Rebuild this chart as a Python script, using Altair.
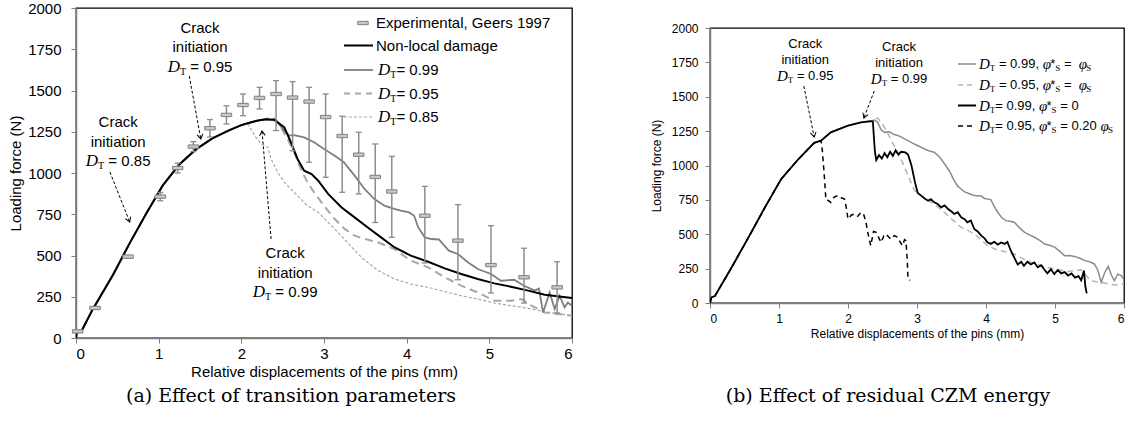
import math
import altair as alt
import pandas as pd

# ---------------- panel (a): effect of transition parameters ----------------
rise_a_x = [0.0, 0.01, 0.07, 0.2, 0.45, 0.65, 0.85, 1.05, 1.25, 1.45, 1.65, 1.85, 2.0]
rise_a_y = [0, 40, 45, 172, 385, 575, 755, 925, 1052, 1143, 1210, 1258, 1290]

nl_x = [2.1, 2.2, 2.3, 2.4, 2.44, 2.52, 2.6, 2.68, 2.76, 2.85, 2.93, 3.05, 3.21, 3.37, 3.53,
        3.69, 3.85, 4.05, 4.26, 4.46, 4.66, 4.86, 5.06, 5.26, 5.47, 5.67, 6.0]
nl_y = [1305, 1318, 1325, 1323, 1307, 1277, 1186, 1085, 1014, 994, 953, 873, 792, 731, 670,
        610, 550, 499, 462, 422, 388, 358, 331, 311, 287, 262, 242]

d99_x = [2.1, 2.2, 2.3, 2.42, 2.52, 2.58, 2.64, 2.76, 2.88, 3.0, 3.13, 3.24, 3.37, 3.49, 3.61,
         3.73, 3.85, 3.93, 4.03, 4.09, 4.14, 4.22, 4.3, 4.39, 4.51, 4.62, 4.74, 4.86, 5.02, 5.14,
         5.3, 5.42, 5.55, 5.6, 5.65, 5.73, 5.79, 5.85, 5.91, 5.95, 6.0]
d99_y = [1305, 1318, 1325, 1318, 1257, 1227, 1230, 1216, 1186, 1145, 1105, 1065, 984, 903, 842,
         802, 782, 772, 761, 741, 670, 610, 600, 597, 529, 509, 459, 418, 388, 347,
         353, 317, 287, 300, 155, 276, 176, 256, 186, 215, 196]

d95_x = [2.1, 2.2, 2.3, 2.38, 2.45, 2.56, 2.64, 2.72, 2.8, 2.88, 3.0, 3.13, 3.25, 3.37, 3.5,
         3.65, 3.85, 4.05, 4.26, 4.46, 4.66, 4.86, 5.06, 5.26, 5.39, 5.51, 5.67, 5.83, 6.0]
d95_y = [1305, 1318, 1328, 1338, 1300, 1206, 1125, 1024, 944, 883, 802, 721, 661, 620, 600,
         580, 539, 469, 428, 368, 317, 276, 226, 226, 236, 196, 155, 145, 135]

d85_x = [2.08, 2.16, 2.24, 2.32, 2.36, 2.44, 2.52, 2.6, 2.68, 2.8, 2.93, 3.05, 3.17, 3.3, 3.45,
         3.65, 3.85, 4.05, 4.26, 4.46, 4.66, 4.86, 5.06, 5.26, 5.47, 5.67, 6.0]
d85_y = [1297, 1227, 1176, 1156, 1085, 1004, 944, 903, 862, 802, 762, 701, 640, 570, 490,
         410, 358, 327, 307, 281, 256, 236, 212, 196, 180, 159, 135]

exp_x = [0.02, 0.23, 0.63, 1.02, 1.23, 1.42, 1.62, 1.82, 2.02, 2.22, 2.42, 2.62, 2.82, 3.02,
         3.22, 3.42, 3.62, 3.82, 4.22, 4.62, 5.02, 5.42, 5.82]
exp_y = [40, 182, 493, 857, 1030, 1160, 1271, 1352, 1412, 1455, 1479, 1457, 1433, 1339,
         1224, 1111, 976, 888, 741, 590, 442, 368, 307]
exp_lo = [40, 175, 485, 832, 1000, 1130, 1218, 1297, 1347, 1388, 1257, 1135, 1065, 974,
          883, 873, 700, 610, 455, 353, 273, 212, 152]
exp_hi = [40, 190, 500, 882, 1060, 1190, 1324, 1407, 1479, 1519, 1560, 1554, 1519, 1479,
          1344, 1247, 1176, 1101, 919, 808, 681, 544, 462]

ann_a_val = ["0.95", "0.85", "0.99"]
ann_a_tx = [1.50, 0.51, 2.53]
ann_a_ty = [1879, 1309, 515]
ann_a_x0 = [1.37, 0.41, 2.36]
ann_a_y0 = [1588, 1006, 600]
ann_a_x1 = [1.51, 0.65, 2.25]
ann_a_y1 = [1206, 703, 1255]

leg_a_text = ["Experimental, Geers 1997", "Non-local damage"]
leg_a_dt = ["0.99", "0.95", "0.85"]

caption_a = "(a) Effect of transition parameters"

# ---------------- panel (b): effect of residual CZM energy ----------------
rise_b_x = [0.0, 0.02, 0.07, 0.3, 0.55, 0.79, 1.03, 1.27, 1.51, 1.61, 1.75, 2.0, 2.19, 2.33]
rise_b_y = [0, 40, 50, 247, 470, 690, 900, 1040, 1165, 1181, 1241, 1290, 1314, 1322]

bs_x = [2.36, 2.39, 2.41, 2.45, 2.49, 2.53, 2.57, 2.61, 2.65, 2.69, 2.73, 2.77, 2.83, 2.87, 2.92,
        2.97, 3.01, 3.06, 3.11, 3.16, 3.2, 3.25, 3.3, 3.35, 3.4, 3.45, 3.5, 3.54, 3.59, 3.64,
        3.69, 3.73, 3.78, 3.83, 3.88, 3.93, 3.98, 4.02, 4.07, 4.12, 4.17, 4.22, 4.27, 4.31, 4.36,
        4.41, 4.46, 4.51, 4.55, 4.6, 4.65, 4.7, 4.75, 4.8, 4.85, 4.89, 4.94, 4.99, 5.04, 5.09,
        5.14, 5.19, 5.24, 5.29, 5.34, 5.38, 5.42, 5.44, 5.46]
bs_y = [1320, 1100, 1040, 1075, 1050, 1090, 1060, 1100, 1070, 1110, 1080, 1100, 1095, 1080, 1000,
        880, 800, 781, 760, 744, 755, 732, 720, 696, 710, 684, 665, 647, 660, 623,
        610, 587, 600, 538, 520, 490, 470, 441, 430, 445, 425, 440, 430, 445, 380,
        330, 280, 300, 270, 300, 280, 295, 260, 275, 240, 215, 245, 210, 240, 215,
        225, 200, 215, 185, 195, 165, 235, 120, 70]

gs_x = [2.38, 2.43, 2.48, 2.53, 2.6, 2.67, 2.74, 2.82, 2.89, 2.96, 3.03, 3.11, 3.18, 3.25, 3.33,
        3.4, 3.47, 3.54, 3.59, 3.64, 3.69, 3.76, 3.83, 3.93, 3.98, 4.07, 4.12, 4.17, 4.23, 4.29,
        4.35, 4.41, 4.48, 4.56, 4.63, 4.7, 4.78, 4.85, 4.92, 5.0, 5.07, 5.14, 5.21, 5.28, 5.36,
        5.43, 5.5, 5.57, 5.62, 5.67, 5.72, 5.77, 5.82, 5.86, 5.91, 5.96, 6.0]
gs_y = [1330, 1314, 1260, 1241, 1245, 1225, 1215, 1193, 1175, 1156, 1140, 1120, 1105, 1096, 1060,
        1011, 960, 889, 850, 829, 808, 795, 781, 778, 760, 752, 700, 660, 620, 599,
        595, 587, 550, 514, 495, 478, 455, 429, 420, 405, 375, 344, 345, 339, 325,
        308, 300, 284, 240, 150, 220, 267, 200, 162, 210, 199, 170]

gd_x = [2.38, 2.43, 2.5, 2.57, 2.64, 2.72, 2.8, 2.87, 2.96, 3.06, 3.15, 3.25, 3.35, 3.45, 3.55,
        3.64, 3.73, 3.83, 3.93, 4.02, 4.12, 4.22, 4.31, 4.41, 4.5, 4.6, 4.7, 4.8, 4.9, 4.99,
        5.09, 5.18, 5.28, 5.38, 5.45, 5.52, 5.6, 5.67, 5.77, 5.86, 6.0]
gd_y = [1335, 1345, 1300, 1241, 1170, 1096, 1010, 926, 820, 781, 750, 720, 680, 635, 590,
        550, 530, 502, 460, 417, 395, 380, 370, 356, 330, 308, 290, 271, 258, 247,
        238, 228, 235, 242, 200, 162, 155, 150, 140, 131, 138]

bd_x = [1.63, 1.66, 1.68, 1.72, 1.75, 1.8, 1.85, 1.9, 1.95, 1.98, 2.0, 2.05, 2.09, 2.14, 2.19,
        2.23, 2.26, 2.3, 2.33, 2.37, 2.41, 2.45, 2.48, 2.52, 2.55, 2.59, 2.62, 2.67, 2.72, 2.76,
        2.79, 2.82, 2.84, 2.86, 2.87, 2.9]
bd_y = [1100, 900, 750, 745, 732, 770, 781, 765, 756, 680, 611, 640, 647, 630, 659,
        640, 587, 480, 417, 520, 514, 470, 441, 490, 502, 480, 465, 490, 478, 440,
        417, 460, 453, 300, 175, 165]

ann_b_val = ["0.95", "0.99"]
ann_b_tx = [1.38, 2.74]
ann_b_ty = [1884, 1862]
ann_b_x0 = [1.36, 2.38]
ann_b_y0 = [1578, 1542]
ann_b_x1 = [1.51, 2.23]
ann_b_y1 = [1207, 1345]

leg_b_dt = ["0.99", "0.95", "0.99", "0.95"]
leg_b_rhs = ["phiS", "phiS", "0", "0.20phiS"]

caption_b = "(b) Effect of residual CZM energy"

# ---------------- styling helpers ----------------
SANS = "Liberation Sans"
SERIF = "Liberation Serif"
CAPF = "DejaVu Serif"
AXGREY = "#7f7f7f"

AR = dict.fromkeys("0123456789", 0.556)
AR.update({".": 0.278, ",": 0.278, " ": 0.278, "=": 0.584, "*": 0.389})
WT = {"s": AR, "si": {"D": 0.722, "φ": 0.5}, "sr": {"T": 0.611, "S": 0.556}}
FONTS = {"s": (SANS, "normal"), "si": (SERIF, "italic"), "sr": (SERIF, "normal")}


def twidth(t, kind, size):
    return sum(WT[kind].get(c, 0.55) for c in t) * size


def make_xy(fs, lpx, tpx, lpy, tpy):
    xs = alt.Scale(domain=[0, 6], nice=False, zero=False)
    ys = alt.Scale(domain=[0, 2000], nice=False, zero=True)
    common = dict(labelFont=SANS, labelFontSize=fs, titleFont=SANS, titleFontSize=fs,
                  titleFontWeight="normal", labelColor="black", titleColor="black",
                  domainColor=AXGREY, domainWidth=1.5, tickColor=AXGREY, tickSize=5,
                  grid=False)
    axx = alt.Axis(values=[0, 1, 2, 3, 4, 5, 6], format="d",
                   title="Relative displacements of the pins (mm)",
                   labelPadding=lpx, titlePadding=tpx, **common)
    axy = alt.Axis(values=list(range(0, 2001, 250)), format="d", title="Loading force (N)",
                   labelPadding=lpy, titlePadding=tpy, **common)

    def XE(f):
        return alt.X(f"{f}:Q", scale=xs, axis=axx)

    def YE(f):
        return alt.Y(f"{f}:Q", scale=ys, axis=axy)
    return XE, YE


def line_layer(xs, ys, XE, YE, color, width, dash=None):
    df = pd.DataFrame({"x": xs, "y": ys, "i": list(range(len(xs)))})
    kw = dict(color=color, strokeWidth=width, clip=True)
    if dash:
        kw["strokeDash"] = dash
    return alt.Chart(df).mark_line(**kw).encode(x=XE("x"), y=YE("y"), order="i:Q")


def text_layer(t, anchor, font, size, style="normal", align="center", dx=0.0, dy=0.0):
    if anchor[0] == "d":
        _, xv, yv, XE, YE = anchor
        df = pd.DataFrame({"x": [xv], "y": [yv], "t": [t]})
        enc = dict(x=XE("x"), y=YE("y"))
    else:
        _, px, py = anchor
        df = pd.DataFrame({"t": [t]})
        enc = dict(x=alt.value(px), y=alt.value(py))
    return alt.Chart(df).mark_text(align=align, baseline="middle", font=font, fontSize=size,
                                   fontStyle=style, dx=round(dx, 1), dy=round(dy, 1),
                                   color="black").encode(text="t:N", **enc)


def rich(segs, anchor, align="center", dy0=0.0):
    W = sum(twidth(t, k, s) for t, k, s, _ in segs)
    cur = -W / 2 if align == "center" else 0.0
    out = []
    for t, k, s, d in segs:
        font, style = FONTS[k]
        lead = len(t) - len(t.lstrip(" "))
        trail = len(t) - len(t.rstrip(" "))
        core = t.strip(" ")
        cur += lead * AR[" "] * s
        if core:
            out.append(text_layer(core, anchor, font, s, style, "left", cur, dy0 + d))
        cur += twidth(core, k, s) + trail * AR[" "] * s
    return out


CHEV = "M-0.6,1L0,0L0.6,1"
RECT = "M-1,-0.32L1,-0.32L1,0.32L-1,0.32Z"
CAPSH = "M-1,0L1,0"


def arrow(x0, y0, x1, y1, XE, YE, kx, ky):
    df = pd.DataFrame({"x": [x0], "y": [y0], "x2": [x1], "y2": [y1]})
    ln = alt.Chart(df).mark_rule(color="black", strokeWidth=1, strokeDash=[3, 2]).encode(
        x=XE("x"), y=YE("y"), x2="x2:Q", y2="y2:Q")
    dxp = (x1 - x0) * kx
    dyp = -(y1 - y0) * ky
    ang = math.degrees(math.atan2(dxp, -dyp)) % 360
    hd = alt.Chart(pd.DataFrame({"x": [x1], "y": [y1]})).mark_point(
        shape=CHEV, size=90, filled=False, color="black", strokeWidth=1, angle=round(ang, 1),
        opacity=1).encode(x=XE("x"), y=YE("y"))
    return [ln, hd]


# ---------------- panel (a) ----------------
WA, HA = 496, 330
XA, YA = make_xy(15, 3, 3, 10, 4)
kxa, kya = WA / 6, HA / 2000

la = []
la.append(line_layer(rise_a_x + d85_x, rise_a_y + d85_y, XA, YA, "#a8a8a8", 1.2, [3, 2]))
la.append(line_layer(rise_a_x + d95_x, rise_a_y + d95_y, XA, YA, "#a8a8a8", 2, [8, 5]))
la.append(line_layer(rise_a_x + d99_x, rise_a_y + d99_y, XA, YA, "#7f7f7f", 1.8))
la.append(line_layer(rise_a_x + nl_x, rise_a_y + nl_y, XA, YA, "black", 2))

exp_df = pd.DataFrame({"x": exp_x, "y": exp_y, "lo": exp_lo, "hi": exp_hi})
bars = exp_df[exp_df["hi"] > exp_df["lo"]]
la.append(alt.Chart(bars).mark_rule(color="#8c8c8c", strokeWidth=1.5).encode(
    x=XA("x"), y=YA("lo"), y2="hi:Q"))
for f in ["lo", "hi"]:
    la.append(alt.Chart(bars).mark_point(shape=CAPSH, size=36, filled=False, color="#8c8c8c",
                                         strokeWidth=1.3, opacity=1).encode(x=XA("x"), y=YA(f)))
la.append(alt.Chart(exp_df).mark_point(shape=RECT, size=110, filled=True, fill="#c8c8c8",
                                       stroke="#7f7f7f", strokeWidth=1, opacity=1,
                                       fillOpacity=1).encode(x=XA("x"), y=YA("y")))

for v, tx, ty, x0, y0, x1, y1 in zip(ann_a_val, ann_a_tx, ann_a_ty, ann_a_x0, ann_a_y0,
                                      ann_a_x1, ann_a_y1):
    anc = ("d", tx, ty, XA, YA)
    la.append(text_layer("Crack", anc, SANS, 15))
    la.append(text_layer("initiation", anc, SANS, 15, dy=19.5))
    la += rich([("D", "si", 17, 0), ("T", "sr", 10, 5), (" = " + v, "s", 15, 0)], anc,
               "center", 39)
    la += arrow(x0, y0, x1, y1, XA, YA, kxa, kya)

# legend (a)
rows_a = [15, 37.5, 62, 85.5, 109]
la.append(alt.Chart(pd.DataFrame({"t": ["e"]})).mark_point(
    shape=RECT, size=110, filled=True, fill="#c8c8c8", stroke="#7f7f7f", strokeWidth=1,
    opacity=1, fillOpacity=1).encode(x=alt.value(287), y=alt.value(rows_a[0])))
leg_styles_a = [("black", 2, None), ("#7f7f7f", 1.8, None), ("#a8a8a8", 2, [6, 5]),
                ("#a8a8a8", 1.2, [3, 2])]
for i, (col, w, dash) in enumerate(leg_styles_a):
    kw = dict(color=col, strokeWidth=w)
    if dash:
        kw["strokeDash"] = dash
    la.append(alt.Chart(pd.DataFrame({"t": ["l"]})).mark_rule(**kw).encode(
        x=alt.value(268), x2=alt.value(297), y=alt.value(rows_a[i + 1])))
for i, t in enumerate(leg_a_text):
    la.append(text_layer(t, ("p", 300, rows_a[i]), SANS, 15, align="left"))
for i, v in enumerate(leg_a_dt):
    la += rich([("D", "si", 17, 0), ("T", "sr", 10, 5), ("= " + v, "s", 15, 0)],
               ("p", 302, rows_a[i + 2]), "left")

la.append(text_layer(caption_a, ("p", 215, 388), CAPF, 19))

left = alt.layer(*la).properties(width=WA, height=HA)

# ---------------- panel (b) ----------------
WB, HB = 414, 275
XB, YB = make_xy(12, 5, 4, 7, 8)
kxb, kyb = WB / 6, HB / 2000

cut = rise_b_x.index(1.61) + 1
lb = []
lb.append(line_layer(rise_b_x + gs_x, rise_b_y + gs_y, XB, YB, "#8c8c8c", 1.5))
lb.append(line_layer(rise_b_x + gd_x, rise_b_y + gd_y, XB, YB, "#b4b4b4", 1.5, [6, 4]))
lb.append(line_layer(rise_b_x[:cut] + bd_x, rise_b_y[:cut] + bd_y, XB, YB, "black", 1.5,
                     [5, 4]))
lb.append(line_layer(rise_b_x + bs_x, rise_b_y + bs_y, XB, YB, "black", 1.8))

for v, tx, ty, x0, y0, x1, y1 in zip(ann_b_val, ann_b_tx, ann_b_ty, ann_b_x0, ann_b_y0,
                                      ann_b_x1, ann_b_y1):
    anc = ("d", tx, ty, XB, YB)
    lb.append(text_layer("Crack", anc, SANS, 13))
    lb.append(text_layer("initiation", anc, SANS, 13, dy=16))
    lb += rich([("D", "si", 15, 0), ("T", "sr", 9, 4), (" = " + v, "s", 13, 0)], anc,
               "center", 32)
    lb += arrow(x0, y0, x1, y1, XB, YB, kxb, kyb)

rows_b = [36, 57, 77.5, 98]
leg_styles_b = [("#8c8c8c", 1.5, None), ("#b4b4b4", 1.5, [5, 4]), ("black", 2, None),
                ("black", 1.5, [5, 4])]
for i, (col, w, dash) in enumerate(leg_styles_b):
    kw = dict(color=col, strokeWidth=w)
    if dash:
        kw["strokeDash"] = dash
    lb.append(alt.Chart(pd.DataFrame({"t": ["l"]})).mark_rule(**kw).encode(
        x=alt.value(248), x2=alt.value(266), y=alt.value(rows_b[i])))
for i, (v, rhs) in enumerate(zip(leg_b_dt, leg_b_rhs)):
    eq = " = " if i < 2 else "= "
    segs = [("D", "si", 15, 0), ("T", "sr", 9, 4), (eq + v + ", ", "s", 13, 0),
            ("φ", "si", 15, 0), ("*", "s", 13, 0), ("S", "sr", 9, 4)]
    if rhs == "phiS":
        segs += [(" =  ", "s", 13, 0), ("φ", "si", 15, 0), ("S", "sr", 9, 4)]
    elif rhs == "0":
        segs += [(" = 0", "s", 13, 0)]
    else:
        segs += [(" = 0.20 ", "s", 13, 0), ("φ", "si", 15, 0), ("S", "sr", 9, 4)]
    lb += rich(segs, ("p", 269, rows_b[i]), "left")

lb.append(text_layer(caption_b, ("p", 178, 368), CAPF, 19))

right = alt.layer(*lb).properties(width=WB, height=HB)

spacer = alt.Chart(pd.DataFrame({"t": [""]})).mark_text().encode(text="t:N").properties(
    width=WB, height=13, view=alt.ViewBackground(strokeOpacity=0))

right_col = alt.vconcat(spacer, right, spacing=0)

chart = alt.hconcat(left, right_col, spacing=75,
                    padding={"left": 7, "top": 0, "right": 0, "bottom": 0},
                    background="white").configure_view(stroke="black", strokeWidth=1.3)

chart.save("out.html", embed_options={"renderer": "svg", "actions": False})
